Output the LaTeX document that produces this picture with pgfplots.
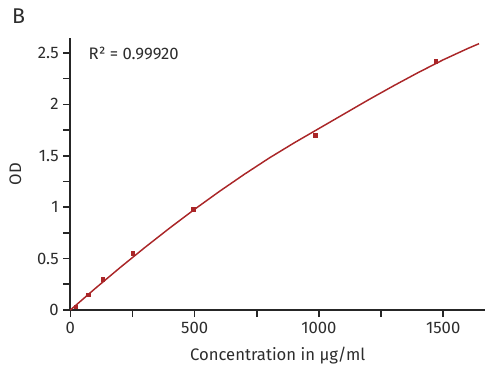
\documentclass[border=0pt]{standalone}
\usepackage{pgfplots}
\pgfplotsset{compat=1.18}
\usepackage{fontspec}
\setmainfont{Fira Sans}
\definecolor{curve}{RGB}{170,38,40}
\definecolor{txt}{RGB}{45,45,45}
\begin{document}
\begin{tikzpicture}[x=0.75pt,y=0.75pt]
\useasboundingbox (-70.4,-64) rectangle (417.6,310);
\begin{axis}[
  at={(0,0)}, anchor=south west,
  scale only axis, width=310.95pt, height=204pt,
  xmin=0, xmax=1668, ymin=0, ymax=2.645,
  axis x line*=bottom, axis y line*=left,
  axis line style={line width=1.6pt, black!85},
  xtick={0,500,1000,1500}, minor xtick={250,750,1250},
  ytick={0,0.5,1,1.5,2,2.5}, minor ytick={0.25,0.75,1.25,1.75,2.25},
  tick align=outside,
  major tick length=5.25pt, minor tick length=5.25pt,
  every tick/.style={black!85, line width=1.2pt},
  /pgf/number format/assume math mode=true,
  /pgf/number format/1000 sep={},
  ticklabel style={font=\fontsize{12.5}{14}\selectfont, text=txt},
  label style={font=\fontsize{12.5}{14}\selectfont, text=txt},
  xlabel={Concentration in µg/ml},
  ylabel={OD},
  xlabel style={at={(axis description cs:0.5,-0.169)}, anchor=center},
  ylabel style={at={(axis description cs:-0.133,0.5)}, anchor=center, rotate=0},
  clip=false,
]
\addplot[curve, line width=1.1pt] coordinates {
(0,0) (100,0.2097) (200,0.4126) (300,0.6087) (400,0.7981) (500,0.9800)
(600,1.1540) (700,1.3200) (800,1.4780) (900,1.6250) (1000,1.7650)
(1100,1.9050) (1200,2.0450) (1300,2.1800) (1400,2.3100) (1500,2.4330)
(1600,2.5444) (1644,2.5899)};
\addplot[only marks, mark=square*, mark size=1.35pt, curve] coordinates {
(21,0.03) (72,0.15) (130,0.30) (251,0.55) (494,0.98) (984,1.70) (1470,2.42)};
\end{axis}
\node[anchor=west, font=\fontsize{12.5}{14}\selectfont, text=txt] at (13.6,257) {R² = 0.99920};
\node[anchor=west, font=\fontsize{16}{18}\selectfont, text=txt] at (-63,294) {B};
\end{tikzpicture}
\end{document}
